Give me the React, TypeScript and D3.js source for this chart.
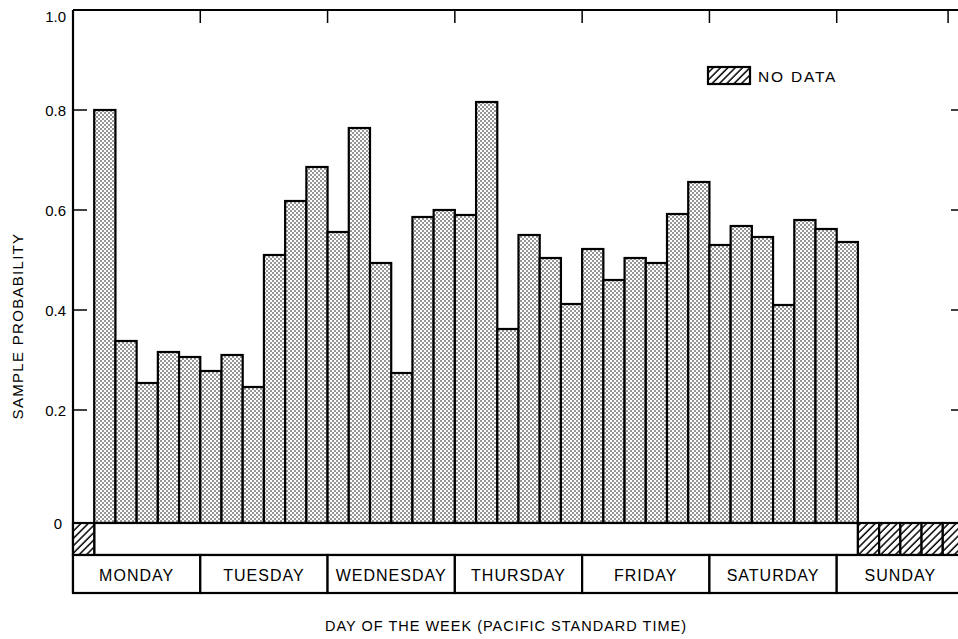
import React from 'react';
import * as d3 from 'd3';

const days = ['MONDAY', 'TUESDAY', 'WEDNESDAY', 'THURSDAY', 'FRIDAY', 'SATURDAY', 'SUNDAY'];
const binHours = 4;
const noDataBins = [0, 37, 38, 39, 40, 41];
// sample probability for 4-hour bins 1..36 (hours 4..148 from Monday 00:00 PST)
const probabilities = [
  0.80, 0.338, 0.254, 0.316, 0.306, 0.278, 0.31, 0.246, 0.51, 0.618, 0.686, 0.556,
  0.764, 0.494, 0.274, 0.586, 0.60, 0.59, 0.816, 0.362, 0.55, 0.504, 0.412, 0.522,
  0.46, 0.504, 0.494, 0.592, 0.656, 0.53, 0.568, 0.546, 0.41, 0.58, 0.562, 0.536,
];
const yTicks = [0, 0.2, 0.4, 0.6, 0.8, 1.0];
const yTickLabels = ['0', '0.2', '0.4', '0.6', '0.8', '1.0'];
const topTickHours = [24, 48, 72, 96, 120, 144, 165];

const FONT = '"Liberation Sans", Arial, Helvetica, sans-serif';

export default function App() {
  const x = d3.scaleLinear().domain([0, 168]).range([73, 964]);
  const y = d3.scaleLinear().domain([0, 0.2, 1]).range([523, 410, 10]);
  const bandBottom = 555;
  const dayBottom = 593;
  const dayScale = d3.scaleBand<string>().domain(days).range([x(0), x(168)]).padding(0);

  return (
    <svg width={958} height={639} style={{ position: 'absolute', left: 0, top: 0, background: '#fff' }}>
      <defs>
        <pattern id="dots" patternUnits="userSpaceOnUse" width={4} height={4}>
          <rect width={4} height={4} fill="#fff" />
          <circle cx={1} cy={1} r={0.8} fill="#111" />
          <circle cx={3} cy={3} r={0.8} fill="#111" />
        </pattern>
        <pattern id="hatch" patternUnits="userSpaceOnUse" width={5.2} height={5.2} patternTransform="rotate(45)">
          <rect width={5.2} height={5.2} fill="#fff" />
          <line x1={1} y1={0} x2={1} y2={5.2} stroke="#000" strokeWidth={1.5} />
        </pattern>
      </defs>

      {/* frame: top and left */}
      <line x1={x(0)} x2={x(168)} y1={y(1)} y2={y(1)} stroke="#000" strokeWidth={2.2} />
      <line x1={x(0)} x2={x(0)} y1={y(1)} y2={dayBottom} stroke="#000" strokeWidth={2.2} />
      <line x1={x(168)} x2={x(168)} y1={y(1)} y2={dayBottom} stroke="#000" strokeWidth={2.2} />

      {/* top ticks */}
      {topTickHours.map((h) => (
        <line key={'tt' + h} x1={x(h)} x2={x(h)} y1={y(1)} y2={y(1) + 13} stroke="#000" strokeWidth={1.5} />
      ))}

      {/* y ticks left + right */}
      {yTicks.filter((t) => t > 0 && t < 1).map((t) => (
        <g key={'yt' + t}>
          <line x1={x(0)} x2={x(0) + 14} y1={y(t)} y2={y(t)} stroke="#000" strokeWidth={1.5} />
          <line x1={x(168) - 13} x2={x(168)} y1={y(t)} y2={y(t)} stroke="#000" strokeWidth={1.5} />
        </g>
      ))}
      {yTicks.map((t, i) => (
        <text
          key={'yl' + t}
          x={t === 0 ? 62 : 66}
          y={t === 1 ? y(t) + 6 : y(t)}
          textAnchor="end"
          dominantBaseline="central"
          fontFamily={FONT}
          fontSize={15}
          fill="#000"
        >
          {yTickLabels[i]}
        </text>
      ))}

      {/* bars */}
      {probabilities.map((v, i) => {
        const bin = i + 1;
        const x0 = x(bin * binHours);
        const x1 = x((bin + 1) * binHours);
        return (
          <rect
            key={'b' + i}
            x={x0}
            y={y(v)}
            width={x1 - x0}
            height={y(0) - y(v)}
            fill="url(#dots)"
            stroke="#000"
            strokeWidth={2.2}
          />
        );
      })}

      {/* zero band */}
      <rect
        x={x(binHours)}
        y={y(0)}
        width={x(37 * binHours) - x(binHours)}
        height={bandBottom - y(0)}
        fill="#fff"
        stroke="#000"
        strokeWidth={2.2}
      />
      {noDataBins.map((b) => (
        <rect
          key={'nd' + b}
          x={x(b * binHours)}
          y={y(0)}
          width={x((b + 1) * binHours) - x(b * binHours)}
          height={bandBottom - y(0)}
          fill="url(#hatch)"
          stroke="#000"
          strokeWidth={2.2}
        />
      ))}

      {/* day labels */}
      {days.map((d) => (
        <g key={d}>
          <rect
            x={dayScale(d)}
            y={bandBottom}
            width={dayScale.bandwidth()}
            height={dayBottom - bandBottom}
            fill="#fff"
            stroke="#000"
            strokeWidth={2.2}
          />
          <text
            x={(dayScale(d) as number) + dayScale.bandwidth() / 2}
            y={575}
            textAnchor="middle"
            dominantBaseline="central"
            fontFamily={FONT}
            fontSize={16}
            letterSpacing={1}
            fill="#000"
          >
            {d}
          </text>
        </g>
      ))}

      {/* legend */}
      <rect x={708} y={67} width={42} height={17} fill="url(#hatch)" stroke="#000" strokeWidth={2.2} />
      <text x={758} y={76} dominantBaseline="central" fontFamily={FONT} fontSize={15.5} letterSpacing={1.8} fill="#000">
        NO DATA
      </text>

      {/* axis titles */}
      <text
        transform="translate(17,326) rotate(-90)"
        textAnchor="middle"
        dominantBaseline="central"
        fontFamily={FONT}
        fontSize={15}
        letterSpacing={1.3}
        fill="#000"
      >
        SAMPLE PROBABILITY
      </text>
      <text
        x={506}
        y={626}
        textAnchor="middle"
        dominantBaseline="central"
        fontFamily={FONT}
        fontSize={14.5}
        letterSpacing={1}
        fill="#000"
      >
        DAY OF THE WEEK (PACIFIC STANDARD TIME)
      </text>
    </svg>
  );
}
